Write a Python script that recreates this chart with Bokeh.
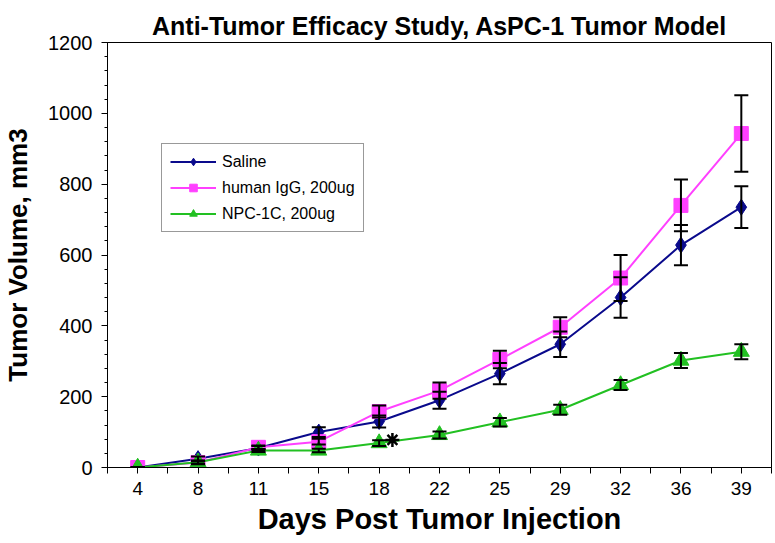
from bokeh.plotting import figure
from bokeh.models import (ColumnDataSource, Range1d, FixedTicker, SingleIntervalTicker,
                          Whisker, TeeHead, Legend, LegendItem, Title)
from bokeh.embed import file_html
from bokeh.resources import INLINE

# ---- data ----
days = [4, 8, 11, 15, 18, 22, 25, 29, 32, 36, 39]
saline = [0, 25, 55, 100, 130, 190, 265, 348, 480, 628, 735]
saline_err = [0, 6, 6, 14, 17, 24, 30, 36, 57, 57, 59]
igg = [0, 14, 57, 73, 158, 217, 305, 396, 535, 740, 943]
igg_err = [0, 5, 5, 8, 17, 23, 25, 28, 65, 73, 108]
npc = [0, 15, 48, 48, 69, 92, 128, 163, 233, 302, 327]
npc_err = [0, 4, 4, 5, 8, 10, 12, 14, 14, 21, 21]
series_names = ["Saline", "human IgG, 200ug", "NPC-1C, 200ug"]
sig_day = 18
sig_value = 78

FONT = "Liberation Sans"
xs = list(range(len(days)))

p = figure(width=774, height=541, output_backend="svg", toolbar_location=None,
           x_range=Range1d(-0.5, len(days) - 0.5), y_range=Range1d(0, 1200),
           min_border_left=107, min_border_right=3, min_border_top=42, min_border_bottom=74)
p.title = None
p.add_layout(Title(text="Anti-Tumor Efficacy Study, AsPC-1 Tumor Model", align="center",
                   text_font=FONT, text_font_size="25px", text_font_style="bold",
                   text_color="black", standoff=6), "above")

p.grid.visible = False
p.outline_line_color = "black"
p.outline_line_width = 1
p.background_fill_color = "white"
p.border_fill_color = "white"

# x axis
p.xaxis.ticker = FixedTicker(ticks=xs, minor_ticks=[i - 0.5 for i in range(len(days) + 1)])
p.xaxis.major_label_overrides = {i: str(d) for i, d in enumerate(days)}
p.xaxis.axis_label = "Days Post Tumor Injection"
p.xaxis.axis_label_text_font = FONT
p.xaxis.axis_label_text_font_size = "29px"
p.xaxis.axis_label_text_font_style = "bold"
p.xaxis.axis_label_text_color = "black"
p.xaxis.axis_label_standoff = 5
p.xaxis.major_label_text_font = FONT
p.xaxis.major_label_text_font_size = "19px"
p.xaxis.major_label_text_color = "black"
p.xaxis.major_label_standoff = 8
p.xaxis.major_tick_out = 6
p.xaxis.major_tick_in = 0
p.xaxis.minor_tick_out = 6
p.xaxis.minor_tick_in = 0
p.xaxis.axis_line_color = "black"

# y axis
p.yaxis.ticker = SingleIntervalTicker(interval=200, num_minor_ticks=5)
p.yaxis.axis_label = "Tumor Volume, mm3"
p.yaxis.axis_label_text_font = FONT
p.yaxis.axis_label_text_font_size = "26px"
p.yaxis.axis_label_text_font_style = "bold"
p.yaxis.axis_label_text_color = "black"
p.yaxis.axis_label_standoff = 12
p.yaxis.major_label_text_font = FONT
p.yaxis.major_label_text_font_size = "20px"
p.yaxis.major_label_text_color = "black"
p.yaxis.major_label_standoff = 9
p.yaxis.major_tick_out = 6
p.yaxis.major_tick_in = 0
p.yaxis.minor_tick_out = 3
p.yaxis.minor_tick_in = 0

colors = ["#0a0a8c", "#ff40ff", "#22c022"]
markers = ["diamond", "square", "triangle"]
sizes = [16, 14, 16]
values = [saline, igg, npc]
errs = [saline_err, igg_err, npc_err]

items = []
for name, col, mk, sz, vals, er in zip(series_names, colors, markers, sizes, values, errs):
    src = ColumnDataSource(dict(x=xs, y=vals,
                                upper=[v + e for v, e in zip(vals, er)],
                                lower=[v - e for v, e in zip(vals, er)]))
    ln = p.line("x", "y", source=src, line_color=col, line_width=2)
    w = Whisker(base="x", upper="upper", lower="lower", source=src, dimension="height",
                line_color="black", line_width=2, level="glyph",
                upper_head=TeeHead(size=14, line_color="black", line_width=2),
                lower_head=TeeHead(size=14, line_color="black", line_width=2))
    p.add_layout(w)
    sc = p.scatter("x", "y", source=src, marker=mk, size=sz, fill_color=col, line_color=col)
    items.append(LegendItem(label=name, renderers=[ln, sc]))

# significance marker
p.scatter(x=[days.index(sig_day) + 0.22], y=[sig_value], marker="asterisk", size=14,
          line_color="black", line_width=2.5)

legend = Legend(items=items, location=(54, 235), orientation="vertical",
                border_line_color="#333333", border_line_width=1,
                background_fill_color="white", background_fill_alpha=1,
                label_text_font=FONT, label_text_font_size="16px", label_text_color="black",
                glyph_width=46, glyph_height=19, label_height=19, spacing=7,
                padding=8, margin=0, label_standoff=6)
p.add_layout(legend, "center")

open("out.html", "w").write(file_html(p, INLINE))
